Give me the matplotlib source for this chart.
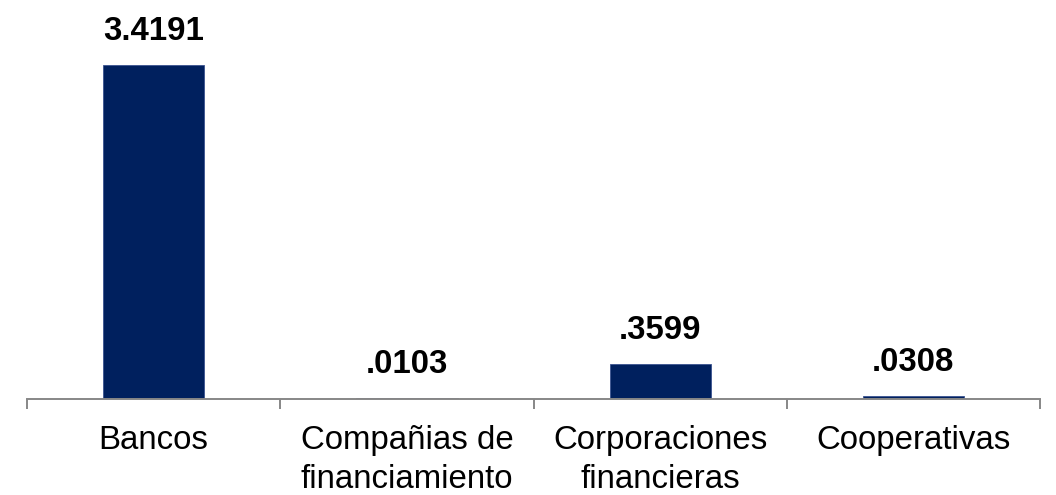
import matplotlib
matplotlib.use("Agg")
import matplotlib.pyplot as plt

categories = ["Bancos", "Compañias de\nfinanciamiento", "Corporaciones\nfinancieras", "Cooperativas"]
values = [3.4191, 0.0103, 0.3599, 0.0308]
value_labels = ["3.4191", ".0103", ".3599", ".0308"]

plt.rcParams["font.family"] = ["Liberation Sans", "DejaVu Sans"]

fig = plt.figure(figsize=(10.56, 4.95), dpi=100)
ax = fig.add_axes([0.0256, 0.194, 0.9593, 0.806])

x = list(range(len(categories)))
bars = ax.bar(x, values, width=0.4, color="#00205e", edgecolor="#3a5390", linewidth=0.6)

for rect, lab in zip(bars, value_labels):
    ax.annotate(lab, (rect.get_x() + rect.get_width() / 2, rect.get_height()),
                xytext=(0, 18), textcoords="offset points",
                ha="center", va="baseline", fontsize=23.8, fontweight="bold")

ax.set_xlim(-0.5, len(categories) - 0.5)
ax.set_ylim(0, 4.09)

for side in ["top", "right", "left"]:
    ax.spines[side].set_visible(False)
ax.spines["bottom"].set_color("#878787")
ax.spines["bottom"].set_linewidth(1.4)

ax.set_yticks([])
ax.set_xticks(x)
ax.set_xticklabels(categories, fontsize=23.8, linespacing=1.3)
ax.tick_params(axis="x", which="major", length=0, pad=19)
ax.set_xticks([i - 0.5 for i in range(len(categories) + 1)], minor=True)
ax.tick_params(axis="x", which="minor", length=7.5, width=1.4, color="#878787")

fig.savefig("out.png", dpi=100)
